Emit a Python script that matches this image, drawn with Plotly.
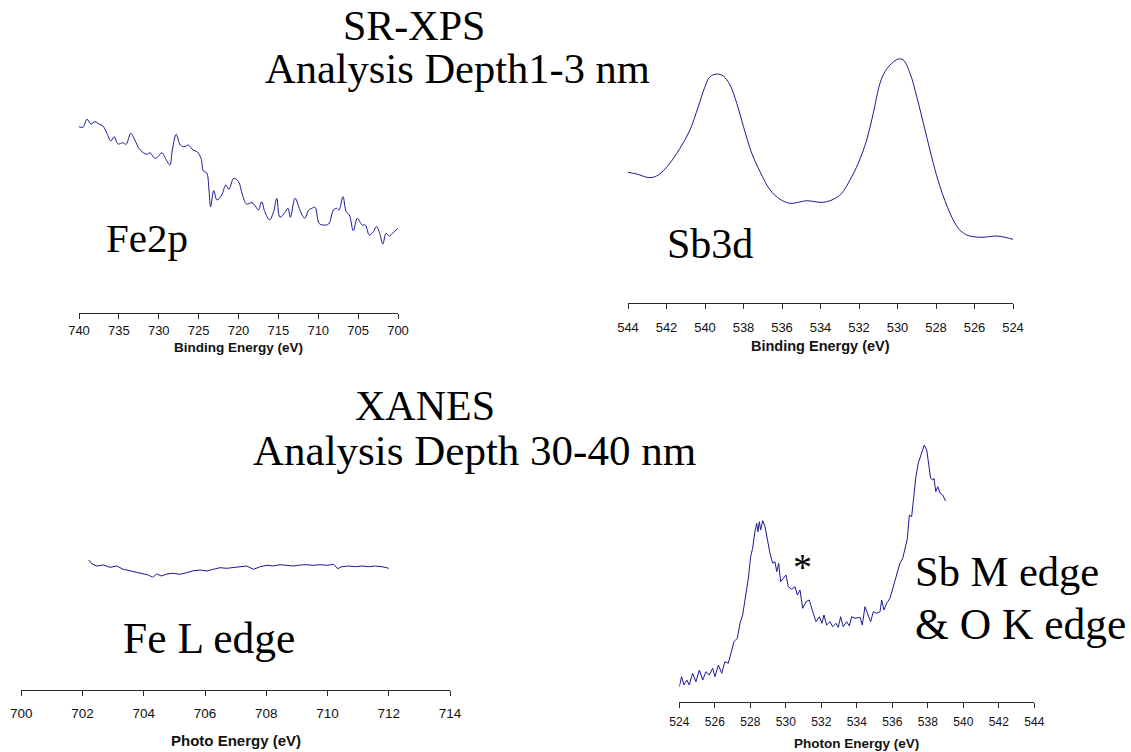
import plotly.graph_objects as go

W, H = 1131, 752

# ---------------- data ----------------
fe2p_be = [740.0, 739.5, 739.0, 738.5, 738.0, 737.5, 737.0, 736.5, 736.0, 735.6, 735.1, 734.5, 734.1,
           733.5, 733.0, 732.4, 731.5, 731.1, 730.5, 730.1, 729.6, 729.1, 728.6, 728.3, 727.8, 727.3,
           726.7, 726.3, 725.7, 725.2, 724.7, 724.4, 724.0, 723.7, 723.5, 723.1, 722.7, 722.1, 721.6,
           721.2, 720.6, 720.0, 719.5, 719.0, 718.3, 717.9, 717.5, 717.1, 716.7, 716.1, 715.6, 715.2,
           714.8, 714.2, 713.8, 713.5, 712.9, 712.3, 711.7, 711.2, 710.8, 710.4, 709.9, 709.4, 708.7,
           708.1, 707.7, 707.4, 706.9, 706.5, 706.1, 705.6, 705.1, 704.5, 704.1, 703.6, 703.1, 702.7,
           702.3, 701.9, 701.5, 701.1, 700.7, 700.0]
fe2p_int = [186.3, 185.7, 193.7, 189.0, 191.3, 189.0, 187.0, 179.7, 172.0, 176.3, 169.0, 170.3, 168.7,
            179.7, 173.0, 163.7, 158.7, 160.3, 154.7, 156.3, 160.3, 153.7, 148.0, 163.0, 178.7, 168.0,
            166.3, 168.0, 163.0, 161.3, 154.7, 142.0, 140.3, 123.0, 106.3, 122.3, 113.0, 118.0, 128.0,
            123.7, 134.7, 131.3, 118.0, 109.0, 110.3, 107.0, 103.0, 111.3, 101.3, 93.0, 101.3, 114.7,
            95.7, 100.3, 104.7, 95.7, 114.7, 103.0, 94.7, 103.0, 104.7, 105.7, 89.7, 88.0, 89.0,
            103.0, 104.7, 103.0, 116.3, 101.3, 98.0, 82.3, 94.7, 88.0, 88.0, 78.0, 81.3, 86.3,
            79.7, 69.0, 79.7, 77.0, 79.7, 84.7]

sb3d_be = [544.0, 543.55, 542.86, 542.43, 541.9, 541.3, 540.78, 540.35, 540.0, 539.74, 539.39, 539.05,
           538.7, 538.35, 538.0, 537.57, 537.14, 536.62, 536.1, 535.58, 535.15, 534.72, 534.29, 533.86,
           533.33, 532.9, 532.47, 532.04, 531.6, 531.26, 530.91, 530.65, 530.3, 529.96, 529.7, 529.35,
           529.0, 528.57, 528.14, 527.79, 527.27, 526.84, 526.4, 525.71, 524.85, 524.42, 524.0]
sb3d_int = [130.7, 129.0, 125.3, 128.0, 138.0, 154.7, 173.0, 196.3, 216.3, 226.3, 229.0, 227.0,
            218.0, 199.7, 176.3, 149.7, 131.3, 113.0, 103.7, 99.7, 100.7, 102.3, 101.3, 100.7,
            103.7, 109.7, 123.0, 139.7, 163.0, 189.7, 219.7, 231.3, 239.7, 244.0, 243.0, 229.7,
            206.3, 173.0, 139.7, 116.3, 89.7, 74.7, 68.0, 65.7, 67.0, 65.7, 63.7]

fel_pe = [702.2, 702.31, 702.47, 702.68, 702.9, 703.12, 703.33, 703.55, 703.77, 703.98, 704.15, 704.29,
          704.42, 704.58, 704.75, 704.96, 705.18, 705.4, 705.62, 705.84, 706.06, 706.27, 706.49, 706.71,
          706.93, 707.14, 707.36, 707.58, 707.8, 708.02, 708.23, 708.45, 708.67, 708.89, 709.11, 709.32,
          709.54, 709.76, 709.98, 710.2, 710.33, 710.47, 710.69, 710.91, 711.13, 711.34, 711.56, 711.78,
          712.0]
fel_int = [130.0, 126.0, 124.0, 125.0, 122.7, 124.0, 120.7, 119.3, 117.3, 116.7, 115.0, 112.7,
           116.0, 114.0, 116.0, 116.7, 115.7, 117.3, 119.3, 120.0, 119.0, 120.7, 122.3, 121.7,
           122.7, 123.3, 124.0, 120.7, 123.3, 124.7, 124.0, 125.3, 124.7, 124.0, 125.0, 125.3,
           124.7, 125.3, 124.7, 125.7, 121.3, 123.3, 124.0, 123.3, 124.0, 123.3, 124.0, 123.3,
           121.7]

sbm_pe = [524.0, 524.13, 524.26, 524.42, 524.56, 524.75, 524.94, 525.13, 525.32, 525.5, 525.69, 525.88,
          526.01, 526.2, 526.39, 526.57, 526.76, 526.9, 527.08, 527.27, 527.42, 527.57, 527.72, 527.89,
          528.02, 528.13, 528.26, 528.36, 528.43, 528.51, 528.58, 528.7, 528.83, 528.96, 529.11, 529.26,
          529.39, 529.49, 529.6, 529.71, 529.86, 530.01, 530.14, 530.33, 530.52, 530.65, 530.8, 530.95,
          531.14, 531.32, 531.52, 531.7, 531.89, 532.04, 532.15, 532.3, 532.49, 532.64, 532.83, 532.96,
          533.09, 533.24, 533.43, 533.58, 533.71, 533.9, 534.18, 534.31, 534.46, 534.65, 534.78, 534.93,
          535.12, 535.31, 535.4, 535.53, 535.68, 535.87, 536.0, 536.11, 536.28, 536.43, 536.59, 536.72,
          536.85, 536.96, 537.09, 537.18, 537.33, 537.46, 537.6, 537.69, 537.8, 537.94, 538.03, 538.16,
          538.28, 538.35, 538.45, 538.56, 538.69, 538.84, 539.0]
sbm_int = [15.3, 25.3, 17.0, 22.0, 17.0, 28.7, 20.3, 32.0, 22.0, 30.3, 27.0, 33.7,
           25.3, 37.0, 28.7, 40.3, 38.7, 48.7, 60.3, 63.7, 78.7, 87.0, 105.3, 123.7,
           145.3, 153.7, 170.3, 178.7, 170.3, 180.3, 172.0, 181.3, 175.3, 162.0, 148.7, 138.7,
           140.3, 130.3, 138.7, 120.3, 123.7, 127.0, 115.3, 112.7, 115.3, 107.0, 112.0, 93.7,
           100.3, 102.0, 90.3, 80.3, 85.3, 78.7, 87.0, 77.0, 80.3, 75.3, 78.7, 74.7,
           85.3, 75.3, 80.3, 76.0, 85.3, 83.7, 84.7, 77.0, 95.3, 87.0, 80.3, 90.3,
           88.7, 90.3, 102.0, 92.0, 98.7, 103.7, 112.0, 120.3, 128.7, 138.7, 143.7, 153.7,
           163.7, 187.0, 185.3, 200.3, 225.3, 238.7, 247.0, 252.0, 257.0, 252.0, 242.0, 223.7,
           222.0, 223.7, 210.3, 215.3, 208.7, 207.0, 201.0]

fe2p_ticks = [740, 735, 730, 725, 720, 715, 710, 705, 700]
sb3d_ticks = [544, 542, 540, 538, 536, 534, 532, 530, 528, 526, 524]
fel_ticks = [700, 702, 704, 706, 708, 710, 712, 714]
sbm_ticks = [524, 526, 528, 530, 532, 534, 536, 538, 540, 542, 544]

# ---------------- helpers ----------------
def px(x):
    return x / W

def py(y):
    return 1 - y / H

LINE = "#1a1a94"
AXC = "#2a2a2a"
SERIF = "Liberation Serif"
SANS = "Liberation Sans"

fig = go.Figure()

panels = [
    ("x", fe2p_be, fe2p_int, 79, 398, 313, [740, 700], fe2p_ticks, 13, "Binding Energy (eV)", 13.5, 347, True, 0),
    ("x2", sb3d_be, sb3d_int, 628, 1013, 303, [544, 524], sb3d_ticks, 13, "Binding Energy (eV)", 14.5, 346, True, 7),
    ("x3", fel_pe, fel_int, 21.3, 450, 690, [700, 714], fel_ticks, 13.5, "Photo Energy (eV)", 15, 740, False, 6),
    ("x4", sbm_pe, sbm_int, 679.3, 1034.3, 702, [524, 544], sbm_ticks, 12, "Photon Energy (eV)", 13.5, 743, False, 4),
]

annotations = []
for i, (xa, xs, ys, x0, x1, ax_px, rng, ticks, tsize, ttl, ttlsize, ttly, smooth, stand) in enumerate(panels):
    ya = "y" if i == 0 else f"y{i+1}"
    line = dict(color=LINE, width=1)
    if smooth:
        line.update(shape="spline", smoothing=1.0)
    fig.add_trace(go.Scatter(x=xs, y=ys, mode="lines", line=line, xaxis=xa, yaxis=ya,
                             hoverinfo="x+y", showlegend=False))
    xkey = "xaxis" if i == 0 else f"xaxis{i+1}"
    ykey = "yaxis" if i == 0 else f"yaxis{i+1}"
    fig.update_layout(**{
        xkey: dict(domain=[px(x0), px(x1)], range=rng, anchor=ya, showline=True, linecolor=AXC,
                   linewidth=1, ticks="outside", ticklen=5, tickwidth=1, tickcolor=AXC,
                   tickvals=ticks, ticktext=[str(t) for t in ticks], showgrid=False, zeroline=False,
                   tickfont=dict(family=SANS, size=tsize, color="#111"), ticklabelstandoff=stand,
                   automargin=False, fixedrange=True),
        ykey: dict(domain=[py(ax_px), py(ax_px - 260)], range=[0, 260], anchor=xa, visible=False,
                   showgrid=False, zeroline=False, automargin=False, fixedrange=True),
    })
    annotations.append(dict(text=f"<b>{ttl}</b>", xref="paper", yref="paper",
                            x=px((x0 + x1) / 2), y=py(ttly), xanchor="center", yanchor="middle",
                            showarrow=False, font=dict(family=SANS, size=ttlsize, color="#111")))

def serif_text(t, x, y, size, xanchor="center"):
    annotations.append(dict(text=t, xref="paper", yref="paper", x=px(x), y=py(y),
                            xanchor=xanchor, yanchor="middle", showarrow=False,
                            font=dict(family=SERIF, size=size, color="black")))

serif_text("SR-XPS", 414, 26, 42)
serif_text("Analysis Depth1-3 nm", 457, 68, 42.5)
serif_text("XANES", 425, 406, 42)
serif_text("Analysis Depth 30-40 nm", 474, 450, 43)
serif_text("Fe2p", 104, 238, 41, "left")
serif_text("Sb3d", 665, 244, 42, "left")
serif_text("Fe L edge", 121, 638, 43.5, "left")
serif_text("Sb M edge", 913, 571, 42.5, "left")
serif_text("&amp; O K edge", 913, 624, 43.5, "left")
serif_text("*", 802, 567, 38)

fig.update_layout(template="none", width=W, height=H, margin=dict(l=0, r=0, t=0, b=0, pad=0),
                  paper_bgcolor="white", plot_bgcolor="rgba(0,0,0,0)", autosize=False,
                  showlegend=False, annotations=annotations)

fig.write_html("out.html")
